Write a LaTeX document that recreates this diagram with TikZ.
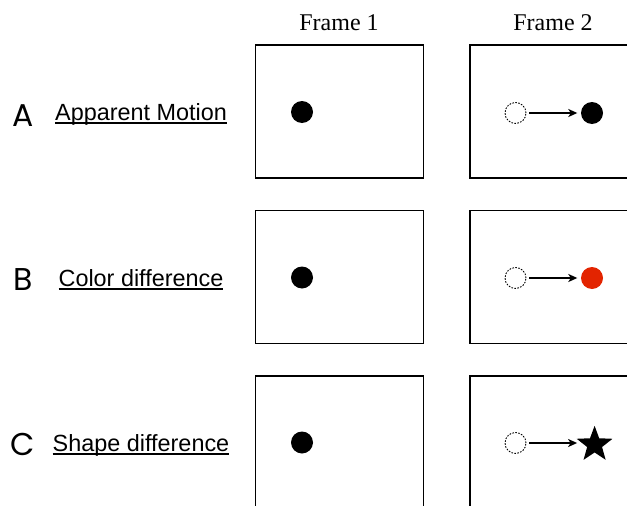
\documentclass[tikz,border=0pt]{standalone}
\usepackage{fontspec}
\setmainfont{Liberation Serif}
\newfontfamily\captionfont{Liberation Sans}
\newfontfamily\letterfont{Poppins}
\usepackage{xcolor}
\usetikzlibrary{positioning, arrows.meta}
\usetikzlibrary{shapes.geometric}

\definecolor{dotred}{HTML}{E32400}

% underline sitting just under the baseline
\newcommand{\ulbl}[1]{\setbox0\hbox{#1}\rlap{\rule[-3.6pt]{\wd0}{2pt}}\box0}

\tikzset{
    framebox/.style={rectangle, draw, line width=1.1pt, minimum width=168pt, minimum height=133pt, inner sep=0pt},
    ball/.style={circle, fill=black, minimum size=22pt, inner sep=0pt},
    ghost/.style={circle, draw, line width=0.9pt, dash pattern=on 1.6pt off 1.4pt, minimum size=21pt, inner sep=0pt},
    move/.style={-{Stealth[length=9pt, width=8pt, inset=2.5pt]}, line width=2pt, shorten <=3pt, shorten >=3.5pt},
    rowletter/.style={font=\letterfont\fontsize{31.5}{31.5}\selectfont, anchor=base},
    rowname/.style={font=\captionfont\fontsize{23.4}{23.4}\selectfont, anchor=base},
    colname/.style={font=\fontsize{24}{24}\selectfont, anchor=base}
}

\begin{document}
\begin{tikzpicture}[x=1pt, y=-1pt]
                \useasboundingbox (0,0) rectangle (627,506);
                \clip (0,0) rectangle (627,506);

                \node[colname] (col1) at (339, 30.5) {Frame 1};
                \node[colname] (col2) at (553, 30.5) {Frame 2};

                % row A
                \node[rowletter] (letA) at (23, 126.5) {A};
                \node[rowname] (nameA) at (141, 120.7) {\ulbl{Apparent Motion}};
                \node[framebox] (boxA1) at (339.5, 111.5) {};
                \node[framebox] (boxA2) at (554, 111.5) {};
                \node[ball] (dotA1) at (302, 112) {};
                \node[ghost] (ghostA) at (515.5, 113) {};
                \node[ball] (dotA2) at (592, 113) {};
                \draw[move] (ghostA) -- (dotA2);

                % row B
                \node[rowletter] (letB) at (23, 290.5) {B};
                \node[rowname] (nameB) at (141, 286) {\ulbl{Color difference}};
                \node[framebox] (boxB1) at (339.5, 277) {};
                \node[framebox] (boxB2) at (554, 277) {};
                \node[ball] (dotB1) at (302, 277.5) {};
                \node[ghost] (ghostB) at (515.5, 278) {};
                \node[ball, fill=dotred] (dotB2) at (592, 278) {};
                \draw[move] (ghostB) -- (dotB2);

                % row C
                \node[rowletter] (letC) at (23, 455.5) {C};
                \node[rowname] (nameC) at (141, 451) {\ulbl{Shape difference}};
                \node[framebox] (boxC1) at (339.5, 442.5) {};
                \node[framebox] (boxC2) at (554, 442.5) {};
                \node[ball] (dotC1) at (302, 442.5) {};
                \node[ghost] (ghostC) at (515.5, 443) {};
                \node[star, star points=5, star point ratio=2.4, fill=black, minimum size=37.6pt, inner sep=0pt] (starC) at (594.6, 444.6) {};
                \draw[move, shorten >=17.5pt] (ghostC) -- (ghostC -| starC);
            \end{tikzpicture}
\end{document}
